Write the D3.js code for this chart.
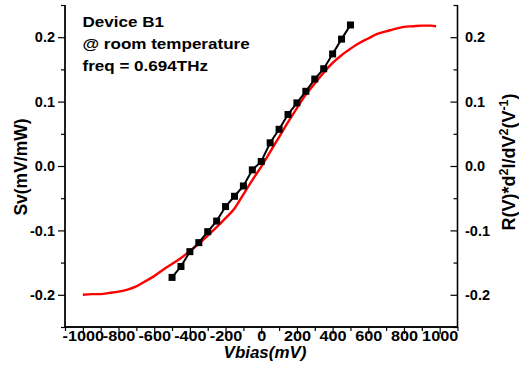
<!DOCTYPE html>
<html><head><meta charset="utf-8">
<script src="https://cdn.jsdelivr.net/npm/d3@7/dist/d3.min.js"></script>
<style>
html,body{margin:0;padding:0;background:#fff;}
svg text{font-family:"Liberation Sans",Arial,sans-serif;font-weight:bold;fill:#000;}
</style></head>
<body>
<svg id="c" width="519" height="381"></svg>
<script>
// ---- data ----
const blackV = [-500,-450,-400,-350,-300,-250,-200,-150,-100,-50,0,50,100,150,200,250,300,350,400,450,500];
const blackS = [-0.173,-0.156,-0.133,-0.119,-0.102,-0.0855,-0.063,-0.047,-0.031,-0.006,0.007,0.036,0.057,0.080,0.098,0.116,0.135,0.151,0.174,0.197,0.219];
const redV = [-1000,-950,-900,-850,-800,-750,-700,-650,-600,-550,-500,-450,-400,-350,-300,-250,-200,-150,-100,-50,0,50,100,150,200,250,300,350,400,450,500,550,600,650,700,750,800,850,900,950,980];
const redS = [-0.200,-0.199,-0.199,-0.197,-0.195,-0.192,-0.187,-0.179,-0.171,-0.161,-0.152,-0.143,-0.132,-0.121,-0.108,-0.095,-0.081,-0.066,-0.044,-0.022,-0.001,0.022,0.045,0.068,0.090,0.111,0.128,0.145,0.160,0.172,0.182,0.191,0.198,0.205,0.209,0.213,0.216,0.217,0.218,0.218,0.217];
const xMajor = [-1000,-800,-600,-400,-200,0,200,400,600,800,1000];
const xMinor = [-1100,-900,-700,-500,-300,-100,100,300,500,700,900,1100];
const yMajor = [-0.2,-0.1,0.0,0.1,0.2];
const yMinor = [-0.25,-0.15,-0.05,0.05,0.15,0.25];
const notes = ["Device B1","@ room temperature","freq = 0.694THz"];

// ---- layout ----
const L = 65, R = 457.5, T = 5, B = 327;
const x = d3.scaleLinear().domain([-1100,1100]).range([L,R]);
const y = d3.scaleLinear().domain([-0.25,0.25]).range([B,T]);
const svg = d3.select("#c");

const fmtY = d => d3.format(".1f")(d).replace("\u2212","-");
const fmtX = d => String(d);

const axL = svg.append("g").attr("transform",`translate(${L},0)`);
axL.call(d3.axisLeft(y).tickValues(yMinor).tickSize(4).tickFormat(""));
axL.append("g").call(d3.axisLeft(y).tickValues(yMajor).tickSize(7).tickPadding(3).tickFormat(fmtY));
const axR = svg.append("g").attr("transform",`translate(${R},0)`);
axR.call(d3.axisRight(y).tickValues(yMinor).tickSize(-4).tickFormat(""));
axR.append("g").call(d3.axisRight(y).tickValues(yMajor).tickSize(-7).tickPadding(7.5).tickFormat(fmtY));
const axB = svg.append("g").attr("transform",`translate(0,${B})`);
axB.call(d3.axisBottom(x).tickValues(xMinor).tickSize(4).tickFormat(""));
axB.append("g").call(d3.axisBottom(x).tickValues(xMajor).tickSize(7).tickPadding(-3).tickFormat(fmtX));

svg.selectAll(".domain").attr("stroke","#000").attr("stroke-width",1.3);
svg.selectAll(".tick line").attr("stroke","#000").attr("stroke-width",1.2);
svg.selectAll(".tick text").attr("font-size","14.5px").attr("font-family","Liberation Sans, Arial, sans-serif").attr("font-weight","bold").attr("fill","#000");
axB.selectAll(".tick text").attr("transform","scale(1.12,1)");
axL.selectAll(".domain").attr("d",`M0,${T}V${B}`);
axR.selectAll(".domain").attr("d",`M0,${T}V${B}`);
axB.selectAll(".domain").attr("d",`M${L},0H${R}`);

// red curve
const redData = redV.map((v,i)=>[v,redS[i]]);
svg.append("path").datum(redData)
  .attr("fill","none").attr("stroke","#ff0000").attr("stroke-width",2.4)
  .attr("d", d3.line().x(d=>x(d[0])).y(d=>y(d[1])).curve(d3.curveMonotoneX));

// black series
const blackData = blackV.map((v,i)=>[v,blackS[i]]);
svg.append("path").datum(blackData)
  .attr("fill","none").attr("stroke","#000").attr("stroke-width",2)
  .attr("d", d3.line().x(d=>x(d[0])).y(d=>y(d[1])));
const sq = 7;
svg.append("g").selectAll("rect").data(blackData).join("rect")
  .attr("x",d=>x(d[0])-sq/2).attr("y",d=>y(d[1])-sq/2)
  .attr("width",sq).attr("height",sq).attr("fill","#000");

// annotation
svg.append("g").selectAll("text").data(notes).join("text")
  .attr("transform",(d,i)=>`translate(82.5,${26.8+i*22}) scale(1.1,1)`)
  .attr("font-size","15.5px").text(d=>d);

// axis titles
svg.append("text").attr("transform","translate(265,358) scale(1.06,1)").attr("text-anchor","middle")
  .attr("font-size","16px").attr("font-style","italic").text("Vbias(mV)");
svg.append("text").attr("transform","translate(27,167) rotate(-90)").attr("text-anchor","middle")
  .attr("font-size","17.5px").text("Sv(mV/mW)");
const rt = svg.append("text").attr("transform","translate(515,162) rotate(-90)").attr("text-anchor","middle")
  .attr("font-size","18px");
const parts = [["R(V)*d",0],["2",1],["I/dV",0],["2",1],["(V",0],["-1",1],[")",0]];
let prevSup = 0;
parts.forEach(([t,s])=>{
  const ts = rt.append("tspan").text(t);
  if (s) ts.attr("font-size","12.5px");
  const dy = s && !prevSup ? -7 : (!s && prevSup ? 7 : 0);
  if (dy) ts.attr("dy",dy);
  prevSup = s;
});
</script>
</body></html>
